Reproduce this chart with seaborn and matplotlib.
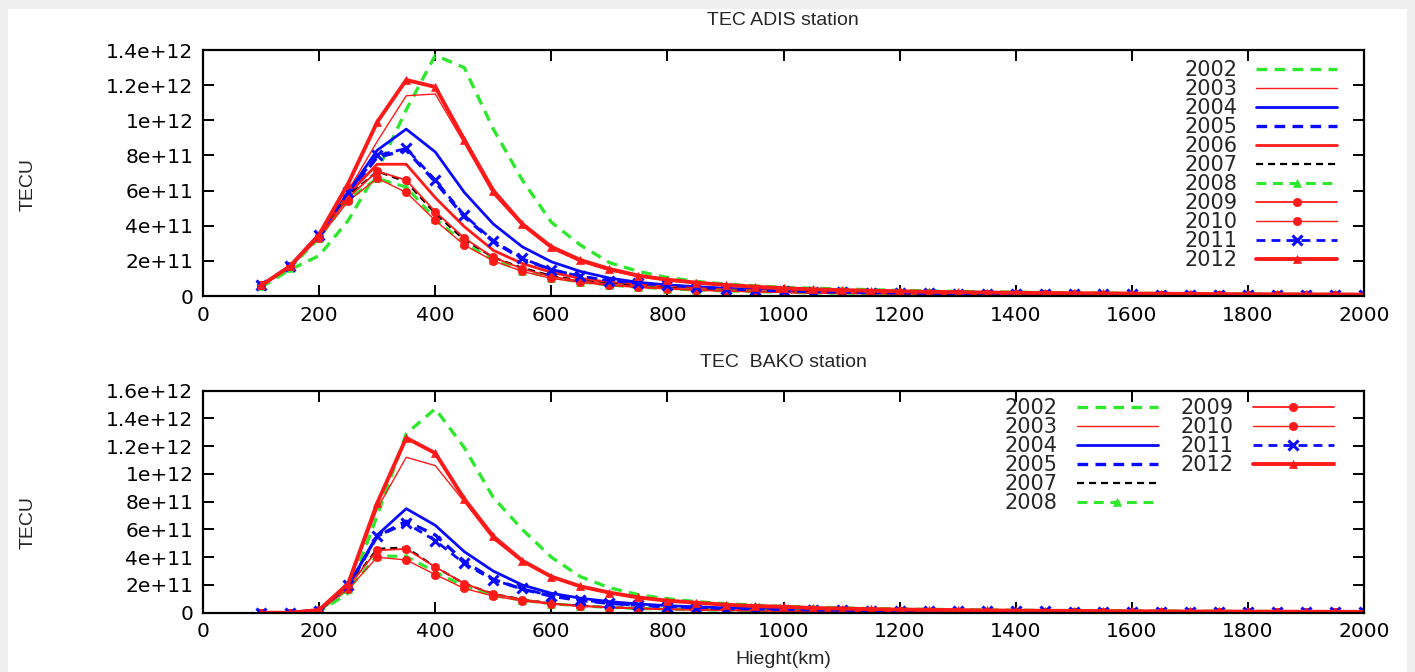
import matplotlib
matplotlib.use("Agg")
import matplotlib.pyplot as plt
from matplotlib.lines import Line2D
from matplotlib.patches import Rectangle
from matplotlib.ticker import FuncFormatter, MultipleLocator
import seaborn as sns

sns.set_style("ticks")
plt.rcParams["font.family"] = ["DejaVu Sans"]

# height grid (km), same for both stations
height_km = [100, 150, 200, 250, 300, 350, 400, 450, 500, 550, 600, 650, 700,
             750, 800, 850, 900, 950, 1000, 1050, 1100, 1150, 1200, 1250, 1300,
             1350, 1400, 1450, 1500, 1550, 1600, 1650, 1700, 1750, 1800, 1850,
             1900, 1950, 2000]

TEC_UNIT = 1e10  # all series below are in units of 1e10

# ---- ADIS station ----
adis_2002 = [5, 15, 23, 43, 71, 106, 137, 130, 95, 66, 42, 29, 19, 14, 10.5, 8.3, 6.8, 5.8, 4.9,
             4.4, 4.0, 3.6, 3.2, 2.9, 2.6, 2.4, 2.2, 2.0, 1.8, 1.7, 1.5, 1.4, 1.3, 1.2, 1.1, 1.0, 0.9, 0.9, 0.8]
adis_2003 = [6, 17, 34, 60, 88, 114, 115, 87, 58, 40, 27, 19.5, 14.5, 11, 8.8, 7.2, 6.0, 5.0, 4.2,
             3.6, 3.2, 2.8, 2.5, 2.3, 2.1, 1.9, 1.7, 1.6, 1.5, 1.4, 1.3, 1.2, 1.1, 1.0, 1.0, 0.9, 0.9, 0.8, 0.8]
adis_2004 = [6, 17, 34, 59, 83, 95, 82, 59, 41, 28, 19.5, 14, 10.2, 7.8, 6.3, 5.3, 4.4, 3.7, 3.1,
             2.7, 2.4, 2.1, 1.9, 1.7, 1.5, 1.4, 1.3, 1.2, 1.1, 1.0, 0.9, 0.9, 0.8, 0.8, 0.7, 0.7, 0.6, 0.6, 0.6]
adis_2005 = [6, 17, 35, 58, 79, 83, 65, 45, 31, 21, 15, 11, 8.5, 7.0, 5.8, 4.9, 4.0, 3.3, 2.8,
             2.4, 2.1, 1.9, 1.7, 1.5, 1.4, 1.3, 1.2, 1.1, 1.0, 0.9, 0.9, 0.8, 0.8, 0.7, 0.7, 0.6, 0.6, 0.5, 0.5]
adis_2006 = [6, 17, 34, 58, 75, 75, 56, 39.5, 26, 18.5, 13.5, 10, 7.8, 6.2, 5.0, 4.2, 3.5, 3.0, 2.6,
             2.2, 2.0, 1.8, 1.6, 1.5, 1.4, 1.3, 1.2, 1.1, 1.0, 0.9, 0.9, 0.8, 0.8, 0.7, 0.7, 0.6, 0.6, 0.6, 0.5]
adis_2007 = [6, 17, 34, 57, 71, 65, 47, 32, 22, 16, 11.5, 8.7, 6.8, 5.5, 4.5, 3.8, 3.2, 2.7, 2.3,
             2.0, 1.8, 1.6, 1.5, 1.4, 1.3, 1.2, 1.1, 1.0, 0.9, 0.9, 0.8, 0.8, 0.7, 0.7, 0.6, 0.6, 0.5, 0.5, 0.5]
adis_2008 = [5.5, 16, 33, 55, 67, 62, 44, 30, 20.5, 14.5, 10.5, 8.0, 6.2, 5.0, 4.1, 3.4, 2.9, 2.5, 2.1,
             1.8, 1.6, 1.5, 1.3, 1.2, 1.1, 1.0, 0.9, 0.9, 0.8, 0.8, 0.7, 0.7, 0.6, 0.6, 0.5, 0.5, 0.5, 0.4, 0.4]
adis_2009 = [6, 17, 34, 56, 71, 66, 48, 33, 22, 15.5, 11, 8.5, 6.5, 5.2, 4.3, 3.6, 3.0, 2.6, 2.2,
             1.9, 1.7, 1.5, 1.4, 1.3, 1.2, 1.1, 1.0, 0.9, 0.9, 0.8, 0.8, 0.7, 0.7, 0.6, 0.6, 0.5, 0.5, 0.5, 0.4]
adis_2010 = [6, 17, 33, 54, 67, 59, 43, 29, 20, 14, 10, 7.8, 6.0, 4.9, 4.0, 3.3, 2.8, 2.4, 2.0,
             1.8, 1.6, 1.4, 1.3, 1.2, 1.1, 1.0, 0.9, 0.9, 0.8, 0.7, 0.7, 0.6, 0.6, 0.6, 0.5, 0.5, 0.4, 0.4, 0.4]
adis_2011 = [6, 17, 35, 59, 80, 84, 66, 46, 31.5, 21.4, 15, 11.4, 8.7, 7.2, 6.0, 5.0, 4.0, 3.3, 2.8,
             2.4, 2.1, 1.9, 1.7, 1.5, 1.4, 1.3, 1.2, 1.1, 1.0, 0.9, 0.9, 0.8, 0.8, 0.7, 0.7, 0.6, 0.6, 0.5, 0.5]
adis_2012 = [6, 17, 35, 64, 99, 123, 119, 89, 60, 41, 28, 20.5, 15.4, 11.6, 9.3, 7.6, 6.3, 5.3, 4.4,
             3.8, 3.4, 3.0, 2.7, 2.4, 2.2, 2.0, 1.8, 1.7, 1.6, 1.5, 1.4, 1.3, 1.2, 1.1, 1.0, 1.0, 0.9, 0.9, 0.8]

# ---- BAKO station (no 2006) ----
bako_2002 = [0, 0, 1, 14, 70, 129, 147, 119, 83, 60, 40, 26, 18, 13, 10, 8, 6.5, 5.5, 4.5,
             4.0, 3.5, 3.0, 2.7, 2.4, 2.2, 2.0, 1.8, 1.6, 1.5, 1.4, 1.3, 1.2, 1.1, 1.0, 0.9, 0.9, 0.8, 0.8, 0.7]
bako_2003 = [0, 0, 2, 20, 75, 112, 106, 80, 53, 36.5, 25.5, 18.5, 14, 10.7, 8.5, 7.0, 5.7, 4.7, 4.2,
             3.3, 2.9, 2.5, 2.2, 2.0, 1.8, 1.6, 1.5, 1.4, 1.3, 1.2, 1.1, 1.0, 0.9, 0.9, 0.8, 0.8, 0.7, 0.7, 0.6]
bako_2004 = [0, 0, 2, 19, 56, 75, 63, 44, 30, 20, 14, 10.5, 8, 6.3, 5.1, 4.2, 3.5, 3.0, 2.6,
             2.2, 2.0, 1.8, 1.6, 1.4, 1.3, 1.2, 1.1, 1.0, 0.9, 0.8, 0.8, 0.7, 0.7, 0.6, 0.6, 0.5, 0.5, 0.5, 0.4]
bako_2005 = [0, 0, 2, 19, 55, 66, 56, 37, 24, 17, 12, 8.8, 6.8, 5.4, 4.4, 3.6, 3.0, 2.6, 2.2,
             1.9, 1.7, 1.5, 1.4, 1.3, 1.2, 1.1, 1.0, 0.9, 0.8, 0.8, 0.7, 0.7, 0.6, 0.6, 0.5, 0.5, 0.5, 0.4, 0.4]
bako_2007 = [0, 0, 2, 19, 46, 47, 33, 21, 13.5, 9.6, 6.7, 5.0, 4.0, 3.2, 2.6, 2.2, 1.9, 1.6, 1.4,
             1.2, 1.1, 1.0, 0.9, 0.8, 0.8, 0.7, 0.7, 0.6, 0.6, 0.5, 0.5, 0.5, 0.4, 0.4, 0.4, 0.4, 0.3, 0.3, 0.3]
bako_2008 = [0, 0, 1.5, 17, 41, 40.5, 29.5, 19, 12.5, 9, 6.5, 4.9, 3.8, 3.0, 2.5, 2.1, 1.8, 1.5, 1.3,
             1.2, 1.0, 0.9, 0.8, 0.8, 0.7, 0.7, 0.6, 0.6, 0.5, 0.5, 0.5, 0.4, 0.4, 0.4, 0.3, 0.3, 0.3, 0.3, 0.3]
bako_2009 = [0, 0, 2, 19, 45, 46, 33, 21, 13.5, 9.5, 6.7, 5.0, 4.0, 3.2, 2.6, 2.2, 1.9, 1.6, 1.4,
             1.2, 1.1, 1.0, 0.9, 0.8, 0.8, 0.7, 0.7, 0.6, 0.6, 0.5, 0.5, 0.5, 0.4, 0.4, 0.4, 0.4, 0.3, 0.3, 0.3]
bako_2010 = [0, 0, 1.5, 17, 40, 38, 27.5, 17.5, 12, 8.5, 6.2, 4.7, 3.6, 2.9, 2.4, 2.0, 1.7, 1.5, 1.3,
             1.1, 1.0, 0.9, 0.8, 0.7, 0.7, 0.6, 0.6, 0.5, 0.5, 0.5, 0.4, 0.4, 0.4, 0.3, 0.3, 0.3, 0.3, 0.3, 0.3]
bako_2011 = [0, 0, 1.2, 20, 55, 64.5, 52, 35.5, 23.5, 17.5, 12, 9.5, 6.7, 5.3, 4.3, 3.6, 3.0, 2.6, 2.2,
             1.9, 1.7, 1.5, 1.4, 1.3, 1.2, 1.1, 1.0, 0.9, 0.8, 0.8, 0.7, 0.7, 0.6, 0.6, 0.5, 0.5, 0.5, 0.4, 0.4]
bako_2012 = [0, 0, 2, 21, 79, 126, 115, 82, 55, 37.5, 26, 19, 14.5, 11, 8.7, 7.2, 5.8, 4.8, 4.3,
             3.4, 3.0, 2.6, 2.3, 2.1, 1.9, 1.7, 1.5, 1.4, 1.3, 1.2, 1.1, 1.0, 0.9, 0.9, 0.8, 0.8, 0.7, 0.7, 0.6]

adis = {"2002": adis_2002, "2003": adis_2003, "2004": adis_2004, "2005": adis_2005,
        "2006": adis_2006, "2007": adis_2007, "2008": adis_2008, "2009": adis_2009,
        "2010": adis_2010, "2011": adis_2011, "2012": adis_2012}
bako = {"2002": bako_2002, "2003": bako_2003, "2004": bako_2004, "2005": bako_2005,
        "2007": bako_2007, "2008": bako_2008, "2009": bako_2009, "2010": bako_2010,
        "2011": bako_2011, "2012": bako_2012}

GREEN, RED, BLUE = "#2ee82e", "#ff1a1a", "#0a0aff"
DASH = (0, (3.2, 2.2))
STYLE = {
    "2002": dict(color=GREEN, lw=2.4, ls=DASH, marker=None),
    "2003": dict(color=RED, lw=1.0, ls="-", marker=None),
    "2004": dict(color=BLUE, lw=2.0, ls="-", marker=None),
    "2005": dict(color=BLUE, lw=2.4, ls=DASH, marker=None),
    "2006": dict(color=RED, lw=2.0, ls="-", marker=None),
    "2007": dict(color="black", lw=1.6, ls=DASH, marker=None),
    "2008": dict(color=GREEN, lw=2.2, ls=DASH, marker="^"),
    "2009": dict(color=RED, lw=1.3, ls="-", marker="o"),
    "2010": dict(color=RED, lw=1.0, ls="-", marker="o"),
    "2011": dict(color=BLUE, lw=2.0, ls=DASH, marker="x"),
    "2012": dict(color=RED, lw=2.8, ls="-", marker="^"),
}


def draw_station(ax, series):
    for year, vals in series.items():
        st = STYLE[year]
        sns.lineplot(x=height_km, y=[v * TEC_UNIT for v in vals], ax=ax,
                     color=st["color"], lw=st["lw"], linestyle=st["ls"],
                     marker=st["marker"], markersize=7 if st["marker"] == "x" else 6,
                     markeredgecolor=st["color"], markerfacecolor=st["color"],
                     markeredgewidth=2.2 if st["marker"] == "x" else 0.5,
                     label=year, legend=False)


def style_axes(ax, ymax):
    ax.set_xlim(0, 2000)
    ax.set_ylim(0, ymax)
    ax.xaxis.set_major_locator(MultipleLocator(200))
    ax.yaxis.set_major_locator(MultipleLocator(2e11))
    ax.yaxis.set_major_formatter(FuncFormatter(lambda v, p: "0" if v == 0 else f"{v:g}"))
    ax.tick_params(direction="in", top=True, right=True, length=8, width=1.4,
                   labelsize=14.5, pad=7, colors="black")
    for s in ax.spines.values():
        s.set_linewidth(1.6)
        s.set_color("black")
    ax.set_xlabel("")
    ax.set_ylabel("")


fig = plt.figure(figsize=(14.15, 6.72), dpi=100)
fig.patch.set_facecolor("#efefef")
fig.add_artist(Rectangle((8 / 1415, 0), 1399 / 1415, 1 - 9 / 672, transform=fig.transFigure,
                         facecolor="white", edgecolor="none", zorder=-1))

ax1 = fig.add_axes([0.1435, 0.5595, 0.8205, 0.366])
ax2 = fig.add_axes([0.1435, 0.0882, 0.8205, 0.3304])
for ax in (ax1, ax2):
    ax.set_facecolor("white")

draw_station(ax1, adis)
draw_station(ax2, bako)
style_axes(ax1, 1.4e12)
style_axes(ax2, 1.6e12)

leg_kw = dict(frameon=False, markerfirst=False, fontsize=15, handlelength=3.9,
              handletextpad=0.9, labelspacing=-0.05, borderpad=0, borderaxespad=0,
              numpoints=1)
h1, l1 = ax1.get_legend_handles_labels()
ax1.legend(h1, l1, loc="upper right", bbox_to_anchor=(0.977, 0.958), **leg_kw)

h2, l2 = ax2.get_legend_handles_labels()
blank = Line2D([], [], color="none")
ax2.legend(h2 + [blank, blank], l2 + ["", ""], loc="upper right", ncol=2,
           columnspacing=1.1, bbox_to_anchor=(0.974, 0.966), **leg_kw)

fig.text(0.5535, 0.970, "TEC ADIS station", ha="center", va="center",
         fontsize=14, family=["Liberation Sans"])
fig.text(0.5535, 0.4613, "TEC  BAKO station", ha="center", va="center",
         fontsize=14, family=["Liberation Sans"])
fig.text(0.5535, 0.018, "Hieght(km)", ha="center", va="center",
         fontsize=14, family=["Liberation Sans"])
fig.text(0.0198, 0.725, "TECU", ha="center", va="center", rotation=90,
         fontsize=14, family=["Liberation Sans"])
fig.text(0.0198, 0.223, "TECU", ha="center", va="center", rotation=90,
         fontsize=14, family=["Liberation Sans"])

fig.savefig("out.png", dpi=100)
